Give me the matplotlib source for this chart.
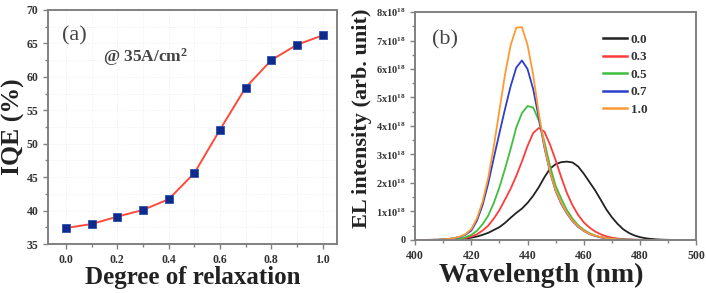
import matplotlib
matplotlib.use("Agg")
import matplotlib.pyplot as plt
from matplotlib.ticker import MultipleLocator, FixedLocator

# ---------------- data ----------------
relaxation = [0.0, 0.1, 0.2, 0.3, 0.4, 0.5, 0.6, 0.7, 0.8, 0.9, 1.0]
iqe = [37.4, 38.0, 39.1, 40.1, 41.7, 45.6, 52.1, 58.4, 62.5, 64.8, 66.2]

wavelength = [400, 402, 404, 406, 408, 410, 412, 414, 416, 418,
              420, 422, 424, 426, 428, 430, 432, 434, 436, 438,
              440, 442, 444, 446, 448, 450, 452, 454, 456, 458,
              460, 462, 464, 466, 468, 470, 472, 474, 476, 478,
              480, 482, 484, 486, 488, 490, 492, 494, 496, 498, 500]

# EL intensity in units of 1e18
el_00 = [0, 0, 0, 0.001, 0.002, 0.005, 0.01, 0.02, 0.03, 0.05,
         0.08, 0.12, 0.18, 0.25, 0.35, 0.45, 0.6, 0.78, 0.95, 1.1,
         1.3, 1.55, 1.85, 2.2, 2.5, 2.66, 2.73, 2.75, 2.72, 2.58,
         2.33, 2.04, 1.75, 1.42, 1.08, 0.8, 0.57, 0.38, 0.25, 0.16,
         0.1, 0.06, 0.035, 0.02, 0.01, 0.005, 0, 0, 0, 0, 0]
el_03 = [0, 0, 0.001, 0.002, 0.003, 0.005, 0.01, 0.02, 0.04, 0.07,
         0.12, 0.2, 0.33, 0.5, 0.75, 1.05, 1.42, 1.8, 2.25, 2.75,
         3.3, 3.75, 3.93, 3.8, 3.35, 2.8, 2.2, 1.65, 1.22, 0.88,
         0.62, 0.44, 0.3, 0.2, 0.13, 0.08, 0.05, 0.03, 0.015, 0.008,
         0.004, 0, 0, 0, 0, 0, 0, 0, 0, 0, 0]
el_05 = [0, 0, 0.001, 0.003, 0.005, 0.008, 0.015, 0.03, 0.05, 0.1,
         0.18, 0.32, 0.55, 0.85, 1.3, 1.85, 2.5, 3.2, 3.95, 4.45,
         4.7, 4.65, 4.2, 3.45, 2.6, 1.9, 1.45, 1.05, 0.75, 0.52,
         0.36, 0.24, 0.16, 0.1, 0.065, 0.04, 0.025, 0.015, 0.01, 0.005,
         0.003, 0, 0, 0, 0, 0, 0, 0, 0, 0, 0]
el_07 = [0, 0, 0.002, 0.005, 0.01, 0.02, 0.035, 0.065, 0.11, 0.19,
         0.33, 0.68, 1.22, 1.98, 2.88, 3.75, 4.6, 5.4, 6.05, 6.3,
         6.0, 5.3, 4.3, 3.25, 2.38, 1.72, 1.27, 0.93, 0.66, 0.46,
         0.32, 0.21, 0.14, 0.09, 0.06, 0.04, 0.025, 0.015, 0.01, 0.005,
         0.003, 0, 0, 0, 0, 0, 0, 0, 0, 0, 0]
el_10 = [0, 0, 0.002, 0.005, 0.01, 0.02, 0.04, 0.07, 0.12, 0.21,
         0.38, 0.76, 1.34, 2.18, 3.28, 4.55, 5.81, 6.84, 7.45, 7.47,
         6.85, 5.8, 4.45, 3.3, 2.4, 1.75, 1.3, 0.95, 0.68, 0.48,
         0.33, 0.22, 0.15, 0.1, 0.065, 0.04, 0.025, 0.015, 0.01, 0.005,
         0.003, 0, 0, 0, 0, 0, 0, 0, 0, 0, 0]

series_labels = ["0.0", "0.3", "0.5", "0.7", "1.0"]
series_values = [el_00, el_03, el_05, el_07, el_10]
series_colors = ["#222222", "#ff3b3b", "#3fbf3f", "#2b3fc8", "#ff9933"]

el_ticks = [0, 1, 2, 3, 4, 5, 6, 7, 8]
el_ticklabels = ["0"] + [f"{v}x10$^{{18}}$" for v in el_ticks[1:]]

# ---------------- style ----------------
plt.rcParams["font.family"] = ["Liberation Serif", "DejaVu Serif"]
plt.rcParams["font.weight"] = "bold"
plt.rcParams["mathtext.fontset"] = "custom"
plt.rcParams["mathtext.rm"] = "Liberation Serif:bold"
plt.rcParams["mathtext.it"] = "Liberation Serif:bold"
plt.rcParams["mathtext.bf"] = "Liberation Serif:bold"

spine_c = "#808080"
tick_c = "#333333"
label_c = "#222222"

fig = plt.figure(figsize=(7.06, 2.93), dpi=100)
ax1 = fig.add_axes([0.068, 0.167, 0.409, 0.799])
ax2 = fig.add_axes([0.588, 0.181, 0.398, 0.778])

for ax in (ax1, ax2):
    for s in ax.spines.values():
        s.set_color(spine_c)
        s.set_linewidth(1.4)
    ax.tick_params(which="both", direction="out", colors=spine_c,
                   labelcolor=tick_c, labelsize=8.5, width=1.0)
    ax.tick_params(which="major", length=3.5)
    ax.tick_params(which="minor", length=2)

# ---------------- panel (a) ----------------
ax1.plot(relaxation, iqe, color="#ff4a3a", lw=1.4, zorder=2)
ax1.plot(relaxation, iqe, ls="none", marker="s", ms=6, color="#0d2a8c",
         markeredgecolor="#2b4fb0", markeredgewidth=0.6, zorder=3)
ax1.set_xlim(-0.07, 1.055)
ax1.set_ylim(35, 70)
ax1.xaxis.set_major_locator(MultipleLocator(0.2))
ax1.xaxis.set_minor_locator(MultipleLocator(0.1))
ax1.yaxis.set_major_locator(MultipleLocator(5))
ax1.yaxis.set_minor_locator(MultipleLocator(2.5))
ax1.xaxis.set_major_formatter(plt.FuncFormatter(lambda v, p: f"{v:.1f}"))
ax1.grid(True, which="both", color="#ececec", lw=0.6, ls=":")
ax1.set_axisbelow(True)
ax1.set_xlabel("Degree of relaxation", fontsize=18, fontweight="bold",
               color=label_c, labelpad=0)
ax1.set_ylabel("IQE (%)", fontsize=18.5, fontweight="bold",
               color=label_c, labelpad=1)
ax1.text(0.05, 0.93, "(a)", transform=ax1.transAxes, fontsize=16,
         fontweight="normal", color="#444444", va="top", ha="left")
ax1.text(0.19, 0.80, "@ 35A/cm$^{2}$", transform=ax1.transAxes, fontsize=12.5,
         fontweight="bold", color="#444444", va="center", ha="left")

# ---------------- panel (b) ----------------
for lab, vals, col in zip(series_labels, series_values, series_colors):
    ax2.plot(wavelength, vals, color=col, lw=1.3, label=lab)
ax2.set_xlim(400, 500)
ax2.set_ylim(0, 8)
ax2.xaxis.set_major_locator(MultipleLocator(20))
ax2.xaxis.set_minor_locator(MultipleLocator(10))
ax2.yaxis.set_major_locator(FixedLocator(el_ticks))
ax2.yaxis.set_minor_locator(MultipleLocator(0.5))
ax2.set_yticklabels(el_ticklabels, fontsize=7.5, fontweight="bold")
ax2.set_xlabel("Wavelength (nm)", fontsize=20, fontweight="bold",
               color=label_c, labelpad=0)
ax2.xaxis.set_label_coords(0.45, -0.10)
ax2.set_ylabel("EL intensity (arb. unit)", fontsize=16, fontweight="bold",
               color=label_c)
ax2.yaxis.set_label_coords(-0.155, 0.535)
ax2.text(0.06, 0.92, "(b)", transform=ax2.transAxes, fontsize=16,
         fontweight="normal", color="#444444", va="top", ha="left")
leg = ax2.legend(loc="upper left", bbox_to_anchor=(0.669, 0.905), frameon=False,
                 fontsize=9.5, handlelength=1.8, handletextpad=0.3,
                 labelspacing=0.4, borderpad=0, borderaxespad=0)
for t in leg.get_texts():
    t.set_fontweight("bold")
    t.set_color("#333333")
for h in leg.get_lines():
    h.set_linewidth(1.8)

fig.savefig("out.png", dpi=100)
